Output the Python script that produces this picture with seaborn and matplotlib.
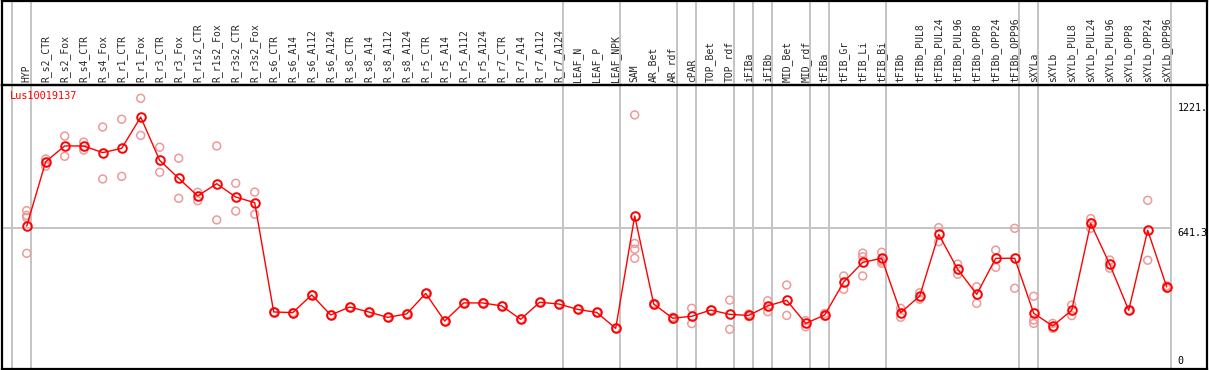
import matplotlib
matplotlib.use("Agg")
import matplotlib.pyplot as plt
import matplotlib.transforms as mtransforms
import seaborn as sns
import pandas as pd

# categories (tissues / conditions)
cats = ['HYP', 'R_s2_CTR', 'R_s2_Fox', 'R_s4_CTR', 'R_s4_Fox', 'R_r1_CTR', 'R_r1_Fox',
        'R_r3_CTR', 'R_r3_Fox', 'R_r1s2_CTR', 'R_r1s2_Fox', 'R_r3s2_CTR', 'R_r3s2_Fox',
        'R_s6_CTR', 'R_s6_A14', 'R_s6_A112', 'R_s6_A124', 'R_s8_CTR', 'R_s8_A14',
        'R_s8_A112', 'R_s8_A124', 'R_r5_CTR', 'R_r5_A14', 'R_r5_A112', 'R_r5_A124',
        'R_r7_CTR', 'R_r7_A14', 'R_r7_A112', 'R_r7_A124', 'LEAF_N', 'LEAF_P', 'LEAF_NPK',
        'SAM', 'AR_Bet', 'AR_rdf', 'cPAR', 'TOP_Bet', 'TOP_rdf', 'iFIBa', 'iFIBb',
        'MID_Bet', 'MID_rdf', 'tFIBa', 'tFIB_Gr', 'tFIB_Li', 'tFIB_Bi', 'tFIBb',
        'tFIBb_PUL8', 'tFIBb_PUL24', 'tFIBb_PUL96', 'tFIBb_OPP8', 'tFIBb_OPP24',
        'tFIBb_OPP96', 'sXYLa', 'sXYLb', 'sXYLb_PUL8', 'sXYLb_PUL24', 'sXYLb_PUL96',
        'sXYLb_OPP8', 'sXYLb_OPP24', 'sXYLb_OPP96']

# mean expression per category
means = [650, 949, 1022, 1022, 991, 1011, 1156, 955, 872, 790, 847, 785, 759,
         252, 249, 331, 238, 275, 252, 227, 243, 338, 210, 294, 294, 280, 218, 297, 289,
         264, 250, 176,
         697, 289, 223, 232, 261, 241, 236, 280, 306, 199, 238, 391, 482, 501,
         249, 326, 612, 450, 334, 501, 501,
         246, 187, 260, 663, 473, 260, 631, 368]

# replicate values per category
reps = [[722, 700, 690, 524], [962, 945, 928], [1068, 974], [1040, 1003], [1110, 869],
        [1146, 881], [1243, 1071], [1016, 900], [965, 779], [807, 768], [1022, 679],
        [849, 720], [808, 705],
        [252], [249], [331], [238], [275], [252], [227], [243], [338], [210], [294],
        [294], [280], [218], [297], [289], [264], [250], [176],
        [1166, 570, 543, 501], [292, 286], [228, 218], [269, 198], [261], [307, 172],
        [242, 230], [304, 253], [377, 236], [212, 183], [245, 232], [419, 357],
        [525, 508, 419], [529, 488, 478], [269, 227], [341, 311], [643, 578],
        [474, 427], [369, 292], [539, 459], [640, 362], [325, 215, 199], [199, 176],
        [284, 235], [685, 665, 640], [493, 455], [260], [770, 492], [373, 362]]

# group separators (after these category indices)
seps = [-1, 0, 28, 31, 34, 35, 37, 38, 39, 41, 42, 45, 52, 53, 60]

gene = 'Lus10019137'
yticks = [(1221, '1221.', 'top'), (641.3, '641.3', 'top'), (0, '0', 'bottom')]

idx = list(range(len(cats)))
rep_df = pd.DataFrame({'i': [i for i, r in enumerate(reps) for _ in r],
                       'v': [v for r in reps for v in r]})

sns.set_style("white")
plt.rcParams['font.family'] = ['DejaVu Sans Mono']

W, H = 1209, 370
fig = plt.figure(figsize=(W / 100, H / 100), dpi=100)


def rect(x0, y0, x1, y1):
    return [x0 / W, 1 - y1 / H, (x1 - x0) / W, (y1 - y0) / H]


xlim = ((1.5 - 26.7) / 19, (1207 - 26.7) / 19)
ylim = ((366.3 - 368.5) / 0.2156, (366.3 - 85) / 0.2156)

ax = fig.add_axes(rect(1.5, 85, 1207, 368.5))
head = fig.add_axes(rect(1.5, 0.8, 1207, 85), facecolor='none')

for a in (ax, head):
    a.set_xlim(*xlim)
    for s in a.spines.values():
        s.set_color('black')
        s.set_linewidth(1.6)
    for s in seps:
        a.axvline(s + 0.21, color='#c4c4c4', lw=1.4, zorder=0)
head.set_ylim(0, 1)
head.set_xticks([])
head.set_yticks([])

ax.set_ylim(*ylim)
ax.hlines(641.3, xlim[0], 60.21, color='#c4c4c4', lw=1.4, zorder=0)

sns.scatterplot(data=rep_df, x='i', y='v', marker='o', s=32, facecolor='none',
                edgecolor='#ec9a9a', linewidth=1.1, ax=ax, zorder=2)
sns.lineplot(x=idx, y=means, color='red', lw=1, marker='o', ms=6.2, mfc='none',
             mec='red', mew=1.4, sort=False, ax=ax, zorder=3)

ax.set_xticks(idx)
ax.set_xticklabels(cats, rotation=90, fontsize=7.0)
ax.xaxis.tick_top()
ax.tick_params(axis='x', length=0, pad=2, top=True, labeltop=True,
               bottom=False, labelbottom=False)
ax.set_yticks([])
ax.set_xlabel('')
ax.set_ylabel('')

trans = mtransforms.blended_transform_factory(ax.transAxes, ax.transData)
for val, lab, va in yticks:
    ax.text(0.9758, val, lab, transform=trans, fontsize=7.2, va=va, ha='left',
            color='black')

fig.text(10 / W, 1 - 91 / H, gene, color='red', fontsize=7.4, va='top', ha='left')

fig.savefig('out.png', dpi=100)
